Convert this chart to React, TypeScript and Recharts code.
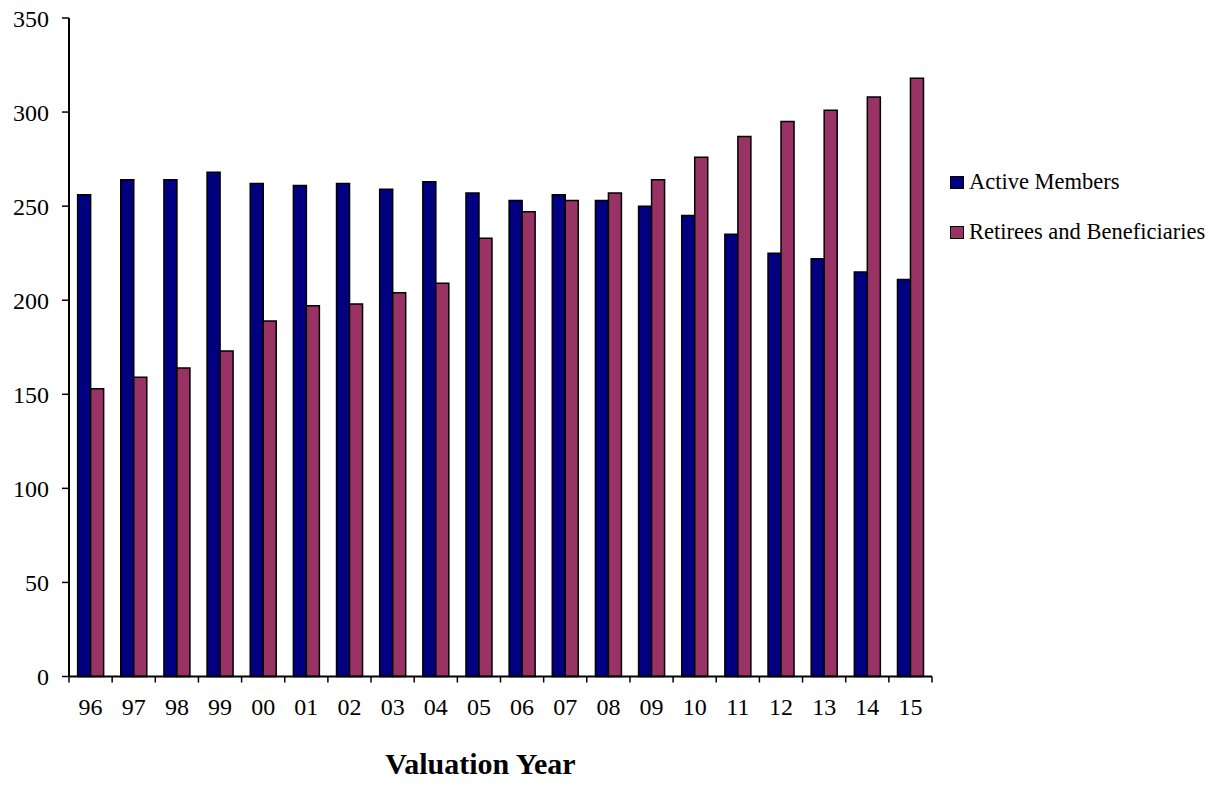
import React from "react";
import { BarChart, Bar, XAxis, YAxis, Legend } from "recharts";

const years = ["96", "97", "98", "99", "00", "01", "02", "03", "04", "05", "06", "07", "08", "09", "10", "11", "12", "13", "14", "15"];
const activeMembers = [256, 264, 264, 268, 262, 261, 262, 259, 263, 257, 253, 256, 253, 250, 245, 235, 225, 222, 215, 211];
const retirees = [153, 159, 164, 173, 189, 197, 198, 204, 209, 233, 247, 253, 257, 264, 276, 287, 295, 301, 308, 318];
const yTicks = [0, 50, 100, 150, 200, 250, 300, 350];

const data = years.map((year, i) => ({
  year,
  active: activeMembers[i],
  retirees: retirees[i],
}));

const W = 1220;
const H = 789;
const PLOT_LEFT = 69;
const PLOT_RIGHT = 932;
const BAND = (PLOT_RIGHT - PLOT_LEFT) / years.length;
const FONT = "'Liberation Serif', 'Times New Roman', serif";

function XTick(props: any) {
  const { x, y, payload, index } = props;
  const half = BAND / 2;
  return (
    <g>
      <line x1={x - half} x2={x - half} y1={y - 6} y2={y} stroke="#000" strokeWidth={1.5} />
      {index === years.length - 1 && (
        <line x1={x + half} x2={x + half} y1={y - 6} y2={y} stroke="#000" strokeWidth={1.5} />
      )}
      <text x={x} y={y + 32} textAnchor="middle" fontSize={24} fontFamily={FONT} fill="#000">
        {payload.value}
      </text>
    </g>
  );
}

function AxisTitle(props: any) {
  const { viewBox } = props;
  return (
    <text
      x={viewBox.x + viewBox.width / 2 - 20}
      y={viewBox.y + 97}
      textAnchor="middle"
      fontSize={30}
      fontWeight="bold"
      fontFamily={FONT}
      fill="#000"
    >
      Valuation Year
    </text>
  );
}

function LegendBox(props: any) {
  const { payload } = props;
  return (
    <div style={{ fontFamily: FONT, fontSize: 22.5, lineHeight: "22px", color: "#000" }}>
      {(payload || []).map((item: any) => (
        <div key={item.value} style={{ display: "flex", alignItems: "center", height: 22, marginBottom: 28 }}>
          <span
            style={{
              display: "inline-block",
              width: 12,
              height: 11,
              background: item.color,
              border: "1.5px solid #000",
              marginRight: 5,
            }}
          />
          <span style={{ whiteSpace: "nowrap" }}>{item.value}</span>
        </div>
      ))}
    </div>
  );
}

export default function App() {
  return (
    <div style={{ position: "absolute", left: 0, top: 0, width: W, height: H, background: "#fff" }}>
      <BarChart
        width={W}
        height={H}
        data={data}
        margin={{ top: 18, right: W - PLOT_RIGHT, bottom: 0.5, left: 0 }}
        barCategoryGap="20%"
        barGap={0}
      >
        <XAxis
          dataKey="year"
          interval={0}
          height={112}
          tickSize={6}
          tickMargin={0}
          tickLine={false}
          axisLine={{ stroke: "#000", strokeWidth: 2 }}
          tick={<XTick />}
          label={<AxisTitle />}
        />
        <YAxis
          width={PLOT_LEFT}
          domain={[0, 350]}
          ticks={yTicks}
          interval={0}
          tickSize={7}
          tickMargin={13}
          axisLine={{ stroke: "#000", strokeWidth: 2 }}
          tickLine={{ stroke: "#000", strokeWidth: 1.5 }}
          tick={{ fill: "#000", fontSize: 24, fontFamily: FONT }}
        />
        <Legend
          layout="horizontal"
          align="center"
          verticalAlign="middle"
          content={<LegendBox />}
          wrapperStyle={{ left: 950, top: 171, width: 270, height: 100 }}
        />
        <Bar
          dataKey="active"
          name="Active Members"
          fill="#000080"
          stroke="#000"
          strokeWidth={1.5}
          isAnimationActive={false}
        />
        <Bar
          dataKey="retirees"
          name="Retirees and Beneficiaries"
          fill="#993366"
          stroke="#000"
          strokeWidth={1.5}
          isAnimationActive={false}
        />
      </BarChart>
    </div>
  );
}
